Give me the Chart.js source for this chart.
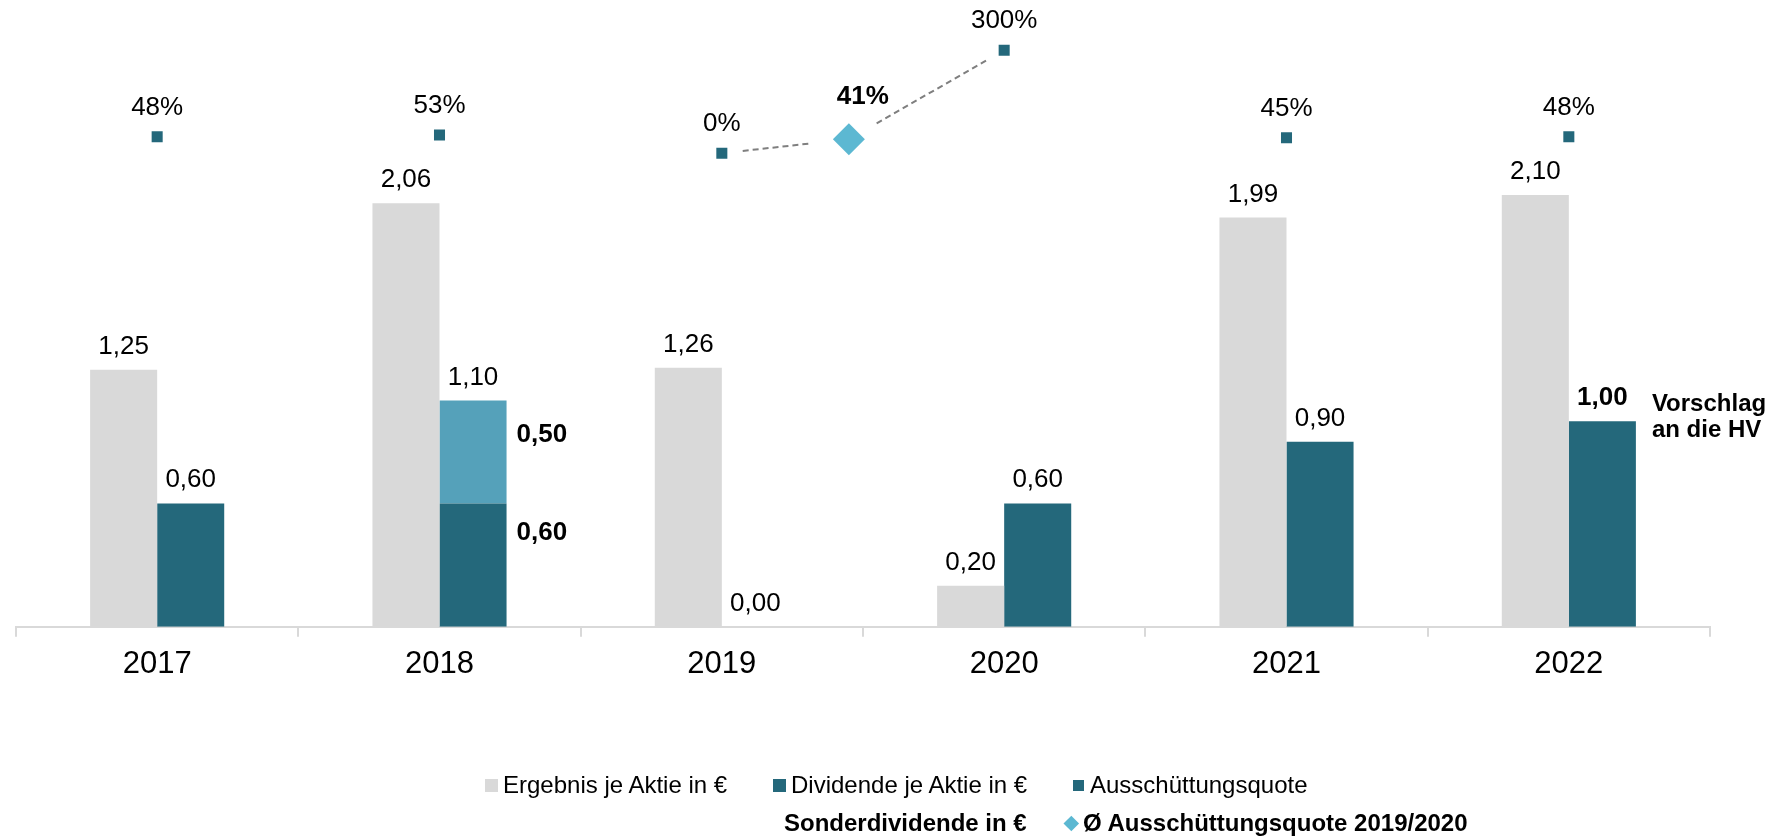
<!DOCTYPE html>
<html lang="de">
<head>
<meta charset="utf-8">
<title>Ergebnis und Dividende je Aktie</title>
<script src="https://cdn.jsdelivr.net/npm/chart.js@4.4.0/dist/chart.umd.min.js"></script>
<style>
  html, body { margin: 0; padding: 0; background: #fff; }
  #wrap { position: relative; width: 1773px; height: 836px; font-family: "Liberation Sans", Arial, sans-serif; }
  #chart { position: absolute; left: 0; top: 0; }
  .lg { position: absolute; height: 24px; line-height: 24px; font-size: 24px; color: #000; white-space: nowrap; display: flex; align-items: center; }
  .lg i { display: inline-block; flex: none; }
</style>
</head>
<body>
<div id="wrap">
  <canvas id="chart" width="1773" height="836"></canvas>
  <div id="legend"></div>
</div>
<script>
// chart data
const years = ['2017', '2018', '2019', '2020', '2021', '2022'];
const earnings = [1.25, 2.06, 1.26, 0.20, 1.99, 2.10];
const dividends = [0.60, 0.60, 0.00, 0.60, 0.90, 1.00];
const specialDividends = [0, 0.50, 0, 0, 0, 0];
const payoutRatio = [48, 53, 0, 300, 45, 48];
const avgPayout = [{ x: 2.45, y: 41 }];   // Ø 2019/2020, category index between the two years
const proposalYear = '2022';
const proposalNote = ['Vorschlag', 'an die HV'];

const FONT = '"Liberation Sans", Arial, sans-serif';
const GREY = '#D9D9D9';
const TEAL = '#24687B';
const LIGHT = '#55A1BA';
const DIAMOND = '#5CB8D2';

const fmt = v => v.toFixed(2).replace('.', ',');

// value labels, connectors and the HV note
const valueLabels = {
  id: 'valueLabels',
  afterDatasetsDraw(chart) {
    const ctx = chart.ctx;
    const ratioMeta = chart.getDatasetMeta(0);
    const avgMeta = chart.getDatasetMeta(1);
    const epsMeta = chart.getDatasetMeta(2);
    const divMeta = chart.getDatasetMeta(3);
    const spMeta = chart.getDatasetMeta(4);

    ctx.save();
    ctx.fillStyle = '#000';
    ctx.textBaseline = 'alphabetic';

    // dashed connectors 0% -> Ø -> 300%
    const p19 = ratioMeta.data[2], p20 = ratioMeta.data[3], pd = avgMeta.data[0];
    const seg = (a, b, g1, g2) => {
      const dx = b.x - a.x, dy = b.y - a.y, len = Math.hypot(dx, dy);
      ctx.moveTo(a.x + dx / len * g1, a.y + dy / len * g1);
      ctx.lineTo(b.x - dx / len * g2, b.y - dy / len * g2);
    };
    ctx.beginPath();
    ctx.strokeStyle = '#7F7F7F';
    ctx.lineWidth = 2;
    ctx.setLineDash([6, 4]);
    seg(p19, pd, 21, 40);
    seg(pd, p20, 32, 19);
    ctx.stroke();
    ctx.setLineDash([]);

    ctx.textAlign = 'center';
    ctx.font = `26px ${FONT}`;
    epsMeta.data.forEach((bar, i) => ctx.fillText(fmt(earnings[i]), bar.x, bar.y - 16));

    divMeta.data.forEach((bar, i) => {
      const sp = specialDividends[i];
      if (sp > 0) {
        const top = spMeta.data[i];
        ctx.textAlign = 'center';
        ctx.font = `26px ${FONT}`;
        ctx.fillText(fmt(dividends[i] + sp), top.x, top.y - 16);
        ctx.textAlign = 'left';
        ctx.font = `bold 26px ${FONT}`;
        const right = bar.x + bar.width / 2 + 10;
        ctx.fillText(fmt(sp), right, top.y + 41);
        ctx.fillText(fmt(dividends[i]), right, bar.y + 37);
      } else {
        const bold = years[i] === proposalYear;
        ctx.textAlign = 'center';
        ctx.font = `${bold ? 'bold ' : ''}26px ${FONT}`;
        ctx.fillText(fmt(dividends[i]), bar.x, bar.y - 16);
        if (bold) {
          ctx.textAlign = 'left';
          ctx.font = `bold 24px ${FONT}`;
          const x = bar.x + bar.width / 2 + 16;
          ctx.fillText(proposalNote[0], x, bar.y - 10);
          ctx.fillText(proposalNote[1], x, bar.y + 16);
        }
      }
    });

    ctx.textAlign = 'center';
    ctx.font = `26px ${FONT}`;
    ratioMeta.data.forEach((pt, i) => ctx.fillText(payoutRatio[i] + '%', pt.x, pt.y - 22));

    ctx.font = `bold 26px ${FONT}`;
    ctx.fillText(avgPayout[0].y + '%', pd.x + 14, pd.y - 35);
    ctx.restore();
  }
};

const chart = new Chart(document.getElementById('chart'), {
  type: 'bar',
  data: {
    labels: years,
    datasets: [
      {
        type: 'line',
        label: 'Ausschüttungsquote',
        data: payoutRatio,
        yAxisID: 'y2',
        showLine: false,
        pointStyle: 'rect',
        pointRadius: 7.8,
        pointHoverRadius: 7.8,
        backgroundColor: TEAL,
        borderColor: TEAL,
        pointBorderWidth: 0,
        order: 1
      },
      {
        // unparsed so the point can sit between two categories
        type: 'line',
        label: 'Ø Ausschüttungsquote 2019/2020',
        data: avgPayout,
        parsing: false,
        yAxisID: 'y2',
        showLine: false,
        pointStyle: 'rectRot',
        pointRadius: 16,
        pointHoverRadius: 16,
        backgroundColor: DIAMOND,
        borderColor: DIAMOND,
        pointBorderWidth: 0,
        order: 1
      },
      { label: 'Ergebnis je Aktie in €', data: earnings, backgroundColor: GREY, stack: 'eps', order: 2 },
      { label: 'Dividende je Aktie in €', data: dividends, backgroundColor: TEAL, stack: 'div', order: 2 },
      { label: 'Sonderdividende in €', data: specialDividends, backgroundColor: LIGHT, stack: 'div', order: 2 }
    ]
  },
  options: {
    responsive: false,
    animation: false,
    events: [],
    datasets: {
      bar: { barPercentage: 1, categoryPercentage: 0.475 }
    },
    layout: { padding: { top: 16, left: 16, right: 63, bottom: 144 } },
    plugins: {
      legend: { display: false },
      tooltip: { enabled: false }
    },
    scales: {
      x: {
        stacked: true,
        grid: { drawOnChartArea: false, drawTicks: true, tickLength: 10, color: GREY, lineWidth: 2, offset: true },
        border: { display: true, color: GREY, width: 2 },
        ticks: { font: { family: FONT, size: 31 }, color: '#000', padding: 9 }
      },
      y: { stacked: true, display: false, min: 0, max: 2.97 },
      y2: { display: false, position: 'right', min: -1380, max: 400 }
    }
  },
  plugins: [valueLabels]
});

// custom legend: two rows, second row starts under the second column
const legendLayout = [
  { ds: 2, left: 485, top: 773, marker: 13, gap: 5 },
  { ds: 3, left: 773, top: 773, marker: 13, gap: 5 },
  { ds: 0, left: 1073, top: 773, marker: 11, gap: 6 },
  { ds: 4, left: 766, top: 811, marker: 13, gap: 5, bold: true, hideMarker: true },
  { ds: 1, left: 1064, top: 811, marker: 15, gap: 4, bold: true, diamond: true }
];
const legendEl = document.getElementById('legend');
legendLayout.forEach(item => {
  const ds = chart.data.datasets[item.ds];
  const div = document.createElement('div');
  div.className = 'lg';
  div.style.left = item.left + 'px';
  div.style.top = item.top + 'px';
  if (item.bold) div.style.fontWeight = 'bold';
  const m = document.createElement('i');
  m.style.width = item.marker + 'px';
  m.style.height = item.marker + 'px';
  if (item.diamond) {
    const s = item.marker / Math.SQRT2;
    m.style.position = 'relative';
    const inner = document.createElement('b');
    inner.style.cssText = `position:absolute;left:${(item.marker - s) / 2}px;top:${(item.marker - s) / 2}px;width:${s}px;height:${s}px;background:${ds.backgroundColor};transform:rotate(45deg);`;
    m.appendChild(inner);
  } else {
    m.style.background = item.hideMarker ? '#fff' : ds.backgroundColor;
  }
  m.style.marginRight = item.gap + 'px';
  div.appendChild(m);
  div.appendChild(document.createTextNode(ds.label));
  legendEl.appendChild(div);
});
</script>
</body>
</html>
